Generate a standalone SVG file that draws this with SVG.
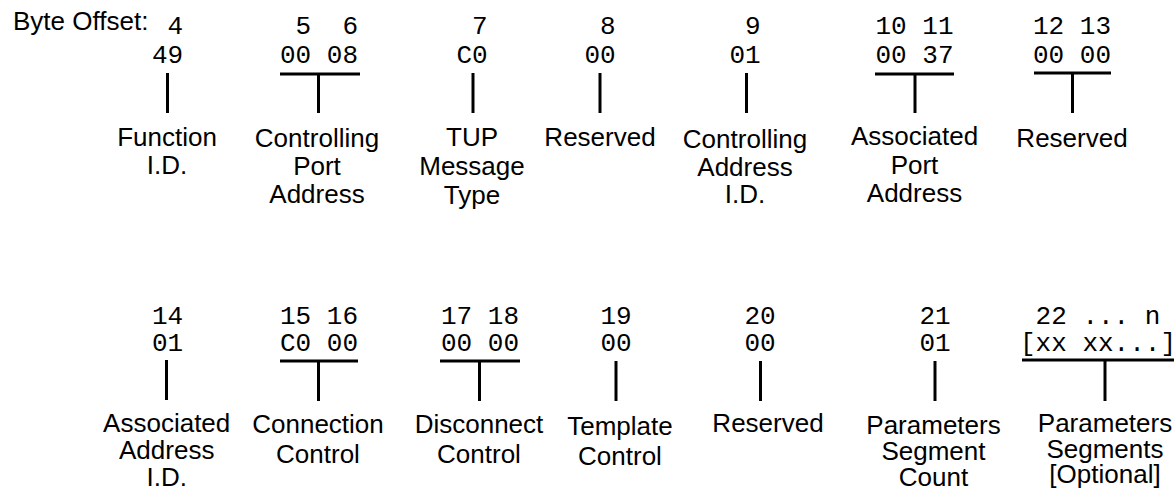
<svg xmlns="http://www.w3.org/2000/svg" width="1176" height="490" viewBox="0 0 1176 490">
<style>
.lbl{font-family:"Liberation Sans",Arial,sans-serif;font-size:26px;fill:#000;text-anchor:middle}
.hdr{font-family:"Liberation Sans",Arial,sans-serif;font-size:26px;fill:#000}
.mono{font-family:"Liberation Mono","Courier New",monospace;font-size:26px;fill:#000}
.ln{stroke:#000;stroke-width:3;fill:none;stroke-linecap:butt}
</style>
<rect width="1176" height="490" fill="#fff"/>
<text class="hdr" x="13" y="30">Byte Offset:</text>

<g id="connectors">
<line class="ln" x1="167.5" y1="73" x2="167.5" y2="113"/>
<line class="ln" x1="280" y1="74" x2="360" y2="74"/><line class="ln" x1="318.5" y1="74" x2="318.5" y2="113"/>
<line class="ln" x1="473" y1="73" x2="473" y2="113"/>
<line class="ln" x1="600" y1="73" x2="600" y2="113"/>
<line class="ln" x1="746.5" y1="73" x2="746.5" y2="113"/>
<line class="ln" x1="875" y1="74" x2="954" y2="74"/><line class="ln" x1="915" y1="74" x2="915" y2="113"/>
<line class="ln" x1="1034" y1="73" x2="1111" y2="73"/><line class="ln" x1="1072.5" y1="73" x2="1072.5" y2="113"/>

<line class="ln" x1="166.5" y1="360" x2="166.5" y2="400"/>
<line class="ln" x1="280" y1="361" x2="358" y2="361"/><line class="ln" x1="318.5" y1="361" x2="318.5" y2="401"/>
<line class="ln" x1="440" y1="361" x2="520" y2="361"/><line class="ln" x1="479.5" y1="361" x2="479.5" y2="401"/>
<line class="ln" x1="616" y1="361" x2="616" y2="401"/>
<line class="ln" x1="760.5" y1="361" x2="760.5" y2="401"/>
<line class="ln" x1="935" y1="361" x2="935" y2="401"/>
<line class="ln" x1="1022" y1="360" x2="1174" y2="360"/><line class="ln" x1="1105" y1="360" x2="1105" y2="401"/>
</g>

<g id="n4">
<text class="mono" x="151.9" y="34" xml:space="preserve"> 4</text>
<text class="mono" x="151.9" y="62.5">49</text>
<text class="lbl" x="167" y="146">Function</text>
<text class="lbl" x="167" y="173.5">I.D.</text>
</g>
<g id="n5_6">
<text class="mono" x="280" y="34" xml:space="preserve"> 5  6</text>
<text class="mono" x="280" y="62.5">00 08</text>
<text class="lbl" x="317" y="146.5">Controlling</text>
<text class="lbl" x="317" y="175">Port</text>
<text class="lbl" x="317" y="203">Address</text>
</g>
<g id="n7">
<text class="mono" x="456.4" y="34" xml:space="preserve"> 7</text>
<text class="mono" x="456.4" y="62.5">C0</text>
<text class="lbl" x="472" y="146">TUP</text>
<text class="lbl" x="472" y="175">Message</text>
<text class="lbl" x="472" y="204">Type</text>
</g>
<g id="n8">
<text class="mono" x="584.4" y="34" xml:space="preserve"> 8</text>
<text class="mono" x="584.4" y="62.5">00</text>
<text class="lbl" x="600" y="146">Reserved</text>
</g>
<g id="n9">
<text class="mono" x="729.4" y="34" xml:space="preserve"> 9</text>
<text class="mono" x="729.4" y="62.5">01</text>
<text class="lbl" x="745" y="148">Controlling</text>
<text class="lbl" x="745" y="175.5">Address</text>
<text class="lbl" x="745" y="203">I.D.</text>
</g>
<g id="n10_11">
<text class="mono" x="875.5" y="34">10 11</text>
<text class="mono" x="875.5" y="62.5">00 37</text>
<text class="lbl" x="914.5" y="145">Associated</text>
<text class="lbl" x="914.5" y="173.5">Port</text>
<text class="lbl" x="914.5" y="202">Address</text>
</g>
<g id="n12_13">
<text class="mono" x="1033" y="34">12 13</text>
<text class="mono" x="1033" y="62.5">00 00</text>
<text class="lbl" x="1072" y="146.5">Reserved</text>
</g>

<g id="n14">
<text class="mono" x="151.9" y="324">14</text>
<text class="mono" x="151.9" y="350.5">01</text>
<text class="lbl" x="166.7" y="432">Associated</text>
<text class="lbl" x="166.7" y="459">Address</text>
<text class="lbl" x="166.7" y="485.5">I.D.</text>
</g>
<g id="n15_16">
<text class="mono" x="280" y="324">15 16</text>
<text class="mono" x="280" y="350.5">C0 00</text>
<text class="lbl" x="318" y="433">Connection</text>
<text class="lbl" x="318" y="463">Control</text>
</g>
<g id="n17_18">
<text class="mono" x="441" y="324">17 18</text>
<text class="mono" x="441" y="350.5">00 00</text>
<text class="lbl" x="479" y="433">Disconnect</text>
<text class="lbl" x="479" y="463">Control</text>
</g>
<g id="n19">
<text class="mono" x="600.4" y="324">19</text>
<text class="mono" x="600.4" y="350.5">00</text>
<text class="lbl" x="620" y="434.5">Template</text>
<text class="lbl" x="620" y="465">Control</text>
</g>
<g id="n20">
<text class="mono" x="744.4" y="324">20</text>
<text class="mono" x="744.4" y="350.5">00</text>
<text class="lbl" x="768" y="432">Reserved</text>
</g>
<g id="n21">
<text class="mono" x="919.4" y="324">21</text>
<text class="mono" x="919.4" y="350.5">01</text>
<text class="lbl" x="933.5" y="433.5">Parameters</text>
<text class="lbl" x="933.5" y="459.5">Segment</text>
<text class="lbl" x="933.5" y="485.5">Count</text>
</g>
<g id="n22_n">
<text class="mono" x="1020" y="324" xml:space="preserve"> 22 ... n</text>
<text class="mono" x="1020" y="350.5">[xx xx...]</text>
<text class="lbl" x="1105" y="432">Parameters</text>
<text class="lbl" x="1105" y="457.5">Segments</text>
<text class="lbl" x="1105" y="483">[Optional]</text>
</g>
</svg>
